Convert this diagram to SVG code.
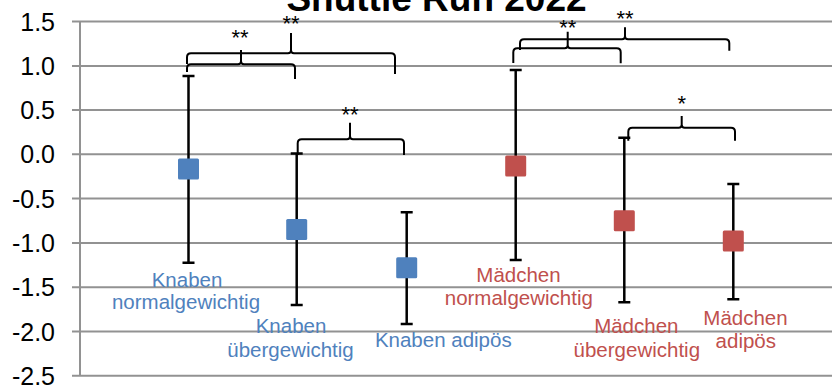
<svg xmlns="http://www.w3.org/2000/svg" width="832" height="390" viewBox="0 0 832 390">
<style>
.grid{stroke:#929292;stroke-width:2;fill:none}
.ylab{font-family:"Liberation Sans",Arial,sans-serif;font-size:25px;fill:#000;text-anchor:end}
.title{font-family:"Liberation Sans",Arial,sans-serif;font-size:37px;font-weight:bold;fill:#000;text-anchor:middle}
.err{stroke:#000;stroke-width:2.5;fill:none}
.brace{stroke:#000;stroke-width:2;fill:none}
.star{font-family:"Liberation Sans",Arial,sans-serif;font-size:22px;fill:#000;text-anchor:middle}
.lab{font-family:"Liberation Sans",Arial,sans-serif;font-size:20.5px;text-anchor:middle}
.blue{fill:#4F81BD}
.red{fill:#C0504D}
</style>
<rect width="832" height="390" fill="#fff"/>
<g id="axes">
<line class="grid" x1="72" y1="21.5" x2="832" y2="21.5"/>
<line class="grid" x1="72" y1="65.9" x2="832" y2="65.9"/>
<line class="grid" x1="72" y1="110.1" x2="832" y2="110.1"/>
<line class="grid" x1="72" y1="154.3" x2="832" y2="154.3"/>
<line class="grid" x1="72" y1="198.6" x2="832" y2="198.6"/>
<line class="grid" x1="72" y1="242.9" x2="832" y2="242.9"/>
<line class="grid" x1="72" y1="287.2" x2="832" y2="287.2"/>
<line class="grid" x1="72" y1="331.5" x2="832" y2="331.5"/>
<line class="grid" x1="72" y1="375.8" x2="832" y2="375.8"/>
<line class="grid" x1="80" y1="21.5" x2="80" y2="375.8"/>
<text class="ylab" x="55" y="30.5">1.5</text>
<text class="ylab" x="55" y="74.8">1.0</text>
<text class="ylab" x="55" y="119.1">0.5</text>
<text class="ylab" x="55" y="163.3">0.0</text>
<text class="ylab" x="55" y="207.6">-0.5</text>
<text class="ylab" x="55" y="251.9">-1.0</text>
<text class="ylab" x="55" y="296.2">-1.5</text>
<text class="ylab" x="55" y="340.5">-2.0</text>
<text class="ylab" x="55" y="384.8">-2.5</text>
</g>
<text class="title" x="436.5" y="11">Shuttle Run 2022</text>
<g id="connectors">
<path class="brace" d="M187,72 V68.3 Q187,64.3 191,64.3 H238 Q241,64.3 241,61.3 V50 M241,61.3 Q241,64.3 244,64.3 H291 Q295,64.3 295,68.3 V79"/>
<path class="brace" d="M187,64 V57.3 Q187,53.3 191,53.3 H288 Q291,53.3 291,50.3 V33 M291,50.3 Q291,53.3 294,53.3 H391 Q395,53.3 395,57.3 V74"/>
<path class="brace" d="M297.7,155 V143.3 Q297.7,139.3 301.7,139.3 H347 Q350,139.3 350,136.3 V122.7 M350,136.3 Q350,139.3 353,139.3 H400 Q404,139.3 404,143.3 V155"/>
<path class="brace" d="M513.3,63 V52.3 Q513.3,48.3 517.3,48.3 H564.7 Q567.7,48.3 567.7,45.3 V31.7 M567.7,45.3 Q567.7,48.3 570.7,48.3 H616.7 Q620.7,48.3 620.7,52.3 V63.3"/>
<path class="brace" d="M520,50 V43.3 Q520,39.3 524,39.3 H622 Q625,39.3 625,36.3 V27.3 M625,36.3 Q625,39.3 628,39.3 H725.3 Q729.3,39.3 729.3,43.3 V50.7"/>
<path class="brace" d="M628.3,140.7 V131.7 Q628.3,127.7 632.3,127.7 H678.7 Q681.7,127.7 681.7,124.7 V116 M681.7,124.7 Q681.7,127.7 684.7,127.7 H731 Q735,127.7 735,131.7 V140.7"/>
<text class="star" x="240" y="45">**</text>
<text class="star" x="291" y="31">**</text>
<text class="star" x="350" y="122">**</text>
<text class="star" x="567.7" y="34.5">**</text>
<text class="star" x="625" y="26">**</text>
<text class="star" x="681.7" y="111">*</text>
</g>
<g id="knaben-normal">
<path class="err" d="M188.5,76 V262.7 M182.5,76 H194.5 M182.5,262.7 H194.5"/>
<rect class="blue" x="178" y="158.5" width="21" height="21" rx="1.5"/>
<text class="lab blue" x="187" y="286.7">Knaben</text>
<text class="lab blue" x="186" y="309.3">normalgewichtig</text>
</g>
<g id="knaben-ueber">
<path class="err" d="M296.7,153.5 V305 M290.7,153.5 H302.7 M290.7,305 H302.7"/>
<rect class="blue" x="286.2" y="219" width="21" height="21" rx="1.5"/>
<text class="lab blue" x="291" y="333.3">Knaben</text>
<text class="lab blue" x="290.5" y="356.7">übergewichtig</text>
</g>
<g id="knaben-adipoes">
<path class="err" d="M406.7,212.3 V324 M400.7,212.3 H412.7 M400.7,324 H412.7"/>
<rect class="blue" x="396.2" y="257.2" width="21" height="21" rx="1.5"/>
<text class="lab blue" x="443.3" y="346.7">Knaben adipös</text>
</g>
<g id="maedchen-normal">
<path class="err" d="M515.7,70 V260 M509.7,70 H521.7 M509.7,260 H521.7"/>
<rect class="red" x="505.2" y="155.5" width="21" height="21" rx="1.5"/>
<text class="lab red" x="518.5" y="281.7">Mädchen</text>
<text class="lab red" x="518.8" y="305">normalgewichtig</text>
</g>
<g id="maedchen-ueber">
<path class="err" d="M624.3,137.7 V302.3 M618.3,137.7 H630.3 M618.3,302.3 H630.3"/>
<rect class="red" x="613.8" y="210.2" width="21" height="21" rx="1.5"/>
<text class="lab red" x="636.3" y="333.3">Mädchen</text>
<text class="lab red" x="636.8" y="356.7">übergewichtig</text>
</g>
<g id="maedchen-adipoes">
<path class="err" d="M733.3,184 V299.3 M727.3,184 H739.3 M727.3,299.3 H739.3"/>
<rect class="red" x="722.8" y="230.5" width="21" height="21" rx="1.5"/>
<text class="lab red" x="745.5" y="325">Mädchen</text>
<text class="lab red" x="745.8" y="348.3">adipös</text>
</g>
</svg>
